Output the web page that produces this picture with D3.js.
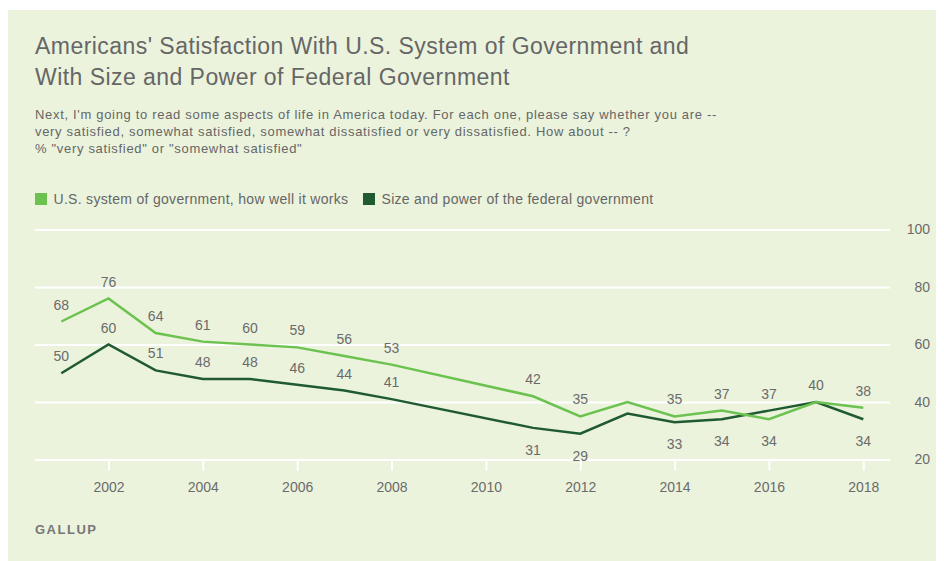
<!DOCTYPE html>
<html>
<head>
<meta charset="utf-8">
<script src="https://cdn.jsdelivr.net/npm/d3@7"></script>
<style>
  html, body { margin: 0; padding: 0; background: #ffffff; }
  svg { display: block; font-family: "Liberation Sans", Arial, sans-serif; }
</style>
</head>
<body>
<svg id="chart" width="944" height="561"></svg>
<script>
// Survey years (no readings in 2009 and 2010)
const years = [2001, 2002, 2003, 2004, 2005, 2006, 2007, 2008,
               2011, 2012, 2013, 2014, 2015, 2016, 2017, 2018];
// % very/somewhat satisfied
const systemWorks = [68, 76, 64, 61, 60, 59, 56, 53, 42, 35, 40, 35, 37, 34, 40, 38];
const sizePower   = [50, 60, 51, 48, 48, 46, 44, 41, 31, 29, 36, 33, 34, 37, 40, 34];
const seriesNames = ["U.S. system of government, how well it works",
                     "Size and power of the federal government"];
const yTicks = [20, 40, 60, 80, 100];
const xTicks = [2002, 2004, 2006, 2008, 2010, 2012, 2014, 2016, 2018];
const unlabeledYears = [2013];

const titleLines = ["Americans' Satisfaction With U.S. System of Government and",
                    "With Size and Power of Federal Government"];
const subtitleLines = [
  "Next, I'm going to read some aspects of life in America today. For each one, please say whether you are --",
  "very satisfied, somewhat satisfied, somewhat dissatisfied or very dissatisfied. How about -- ?",
  "% \"very satisfied\" or \"somewhat satisfied\""
];

const colors = ["#6cc24f", "#1f5a31"];
const textGray = "#6b6b6b";

const svg = d3.select("#chart");

// Card background
svg.append("rect")
  .attr("x", 8).attr("y", 10).attr("width", 928).attr("height", 551)
  .attr("fill", "#ebf3dd");

// Title
svg.append("g").selectAll("text").data(titleLines).join("text")
  .attr("x", 35).attr("y", (d, i) => 54 + i * 31)
  .attr("font-size", 23).attr("fill", "#666666")
  .attr("letter-spacing", 0.45)
  .text(d => d);

// Subtitle
svg.append("g").selectAll("text").data(subtitleLines).join("text")
  .attr("x", 35).attr("y", (d, i) => 119 + i * 17)
  .attr("font-size", 13).attr("fill", "#666666")
  .attr("letter-spacing", 0.68)
  .text(d => d);

// Legend
const legendX = [35, 363];
const leg = svg.append("g").selectAll("g").data(seriesNames).join("g")
  .attr("transform", (d, i) => `translate(${legendX[i]},193)`);
leg.append("rect").attr("width", 12).attr("height", 12).attr("fill", (d, i) => colors[i]);
leg.append("text").attr("x", 18.5).attr("y", 10.5)
  .attr("font-size", 14).attr("fill", "#666666")
  .attr("letter-spacing", 0.3)
  .text(d => d);

// Scales
const x = d3.scaleLinear().domain([2001, 2018]).range([61.3, 863.3]);
const y = d3.scaleLinear().domain([20, 100]).range([459.5, 229.5]);

// Horizontal grid + right-hand value labels
const yAxis = d3.axisRight(y).tickValues(yTicks).tickSize(855).tickPadding(40);
const gy = svg.append("g").attr("transform", "translate(35,0)").call(yAxis);
gy.select(".domain").remove();
gy.selectAll(".tick line").attr("stroke", "#ffffff").attr("stroke-width", 2);
gy.selectAll(".tick text")
  .attr("text-anchor", "end")
  .attr("font-family", "Liberation Sans, Arial, sans-serif")
  .attr("font-size", 14).attr("fill", textGray);

// Year axis
const xAxis = d3.axisBottom(x).tickValues(xTicks).tickFormat(d3.format("d"))
  .tickSize(11).tickPadding(11.5);
const gx = svg.append("g").attr("transform", `translate(0,${y(20)})`).call(xAxis);
gx.select(".domain").remove();
gx.selectAll(".tick line").attr("stroke", "#ffffff").attr("stroke-width", 2);
gx.selectAll(".tick text")
  .attr("font-family", "Liberation Sans, Arial, sans-serif")
  .attr("font-size", 14).attr("fill", textGray);

// Lines (dark series drawn first so the light one sits on top)
const seriesVals = [systemWorks, sizePower];
const line = d3.line().x(d => x(d.year)).y(d => y(d.v));
[1, 0].forEach(s => {
  const pts = years.map((yr, i) => ({ year: yr, v: seriesVals[s][i] }));
  svg.append("path").datum(pts)
    .attr("d", line)
    .attr("fill", "none")
    .attr("stroke", colors[s])
    .attr("stroke-width", 2.5)
    .attr("stroke-linejoin", "miter");
});

// Value labels: higher series above its point, lower one below
// (the lower one goes above too when the gap leaves room)
const labels = [];
years.forEach((yr, i) => {
  if (unlabeledYears.includes(yr)) return;
  const a = systemWorks[i], b = sizePower[i];
  if (a === b) { labels.push({ year: yr, v: a, pos: "above" }); return; }
  labels.push({ year: yr, v: a, pos: a > b ? "above" : "below" });
  labels.push({ year: yr, v: b, pos: (b > a || a - b >= 12) ? "above" : "below" });
});
svg.append("g").selectAll("text").data(labels).join("text")
  .attr("x", d => x(d.year))
  .attr("y", d => y(d.v) + (d.pos === "above" ? -12 : 27))
  .attr("text-anchor", "middle")
  .attr("font-size", 14).attr("fill", textGray)
  .text(d => d.v);

// Source
svg.append("text")
  .attr("x", 35).attr("y", 534)
  .attr("font-size", 13).attr("font-weight", "bold")
  .attr("letter-spacing", 1.5).attr("fill", "#777777")
  .text("GALLUP");
</script>
</body>
</html>
